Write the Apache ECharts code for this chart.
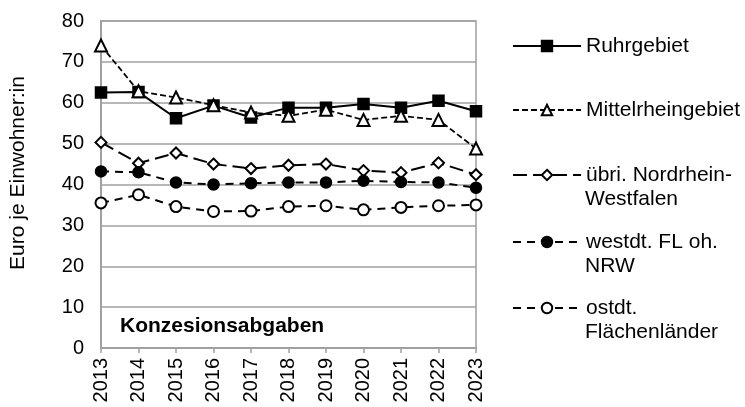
<!DOCTYPE html>
<html><head><meta charset="utf-8">
<script src="https://cdn.jsdelivr.net/npm/echarts@6/dist/echarts.min.js"></script>
<style>html,body{margin:0;padding:0;background:#fff}#c{width:745px;height:407px}</style>
</head><body><div id="c"></div>
<script>
const years = ['2013','2014','2015','2016','2017','2018','2019','2020','2021','2022','2023'];
const ruhrgebiet = [62.5, 62.6, 56.2, 59.3, 56.4, 58.8, 58.8, 59.7, 58.8, 60.5, 57.9];
const mittelrhein = [74.0, 62.8, 61.3, 59.4, 57.6, 56.8, 58.3, 55.8, 56.8, 55.8, 48.8];
const uebriNRW = [50.3, 45.2, 47.7, 45.0, 43.9, 44.7, 45.0, 43.4, 42.9, 45.3, 42.4];
const westdt = [43.2, 43.0, 40.5, 40.0, 40.3, 40.5, 40.5, 40.9, 40.6, 40.5, 39.2];
const ostdt = [35.5, 37.5, 34.6, 33.4, 33.5, 34.6, 34.8, 33.8, 34.4, 34.8, 35.0];
const yTicks = {min: 0, max: 80, interval: 10};
const names = ['Ruhrgebiet', 'Mittelrheingebiet', 'übri. Nordrhein-', 'westdt. FL oh.', 'ostdt.'];
const secondLines = ['', '', 'Westfalen', 'NRW', 'Flächenländer'];
const yTitle = 'Euro je Einwohner:in';
const panelTitle = 'Konzesionsabgaben';

const FONT = 'Liberation Sans, Arial, sans-serif';
const chart = echarts.init(document.getElementById('c'));
function mk(name, data, symbol, size, dash, width) {
  return {
    name, type: 'line', data, symbol, symbolSize: size,
    lineStyle: {color: '#000', width: width, type: dash},
    itemStyle: {color: '#000', borderColor: '#000', borderWidth: 1.5},
    emphasis: {disabled: true}, animation: false, z: 3
  };
}
const legendTops = [46, 110, 175, 242, 308];
const legends = names.map((n, i) => ({
  data: [n], left: 512, top: legendTops[i] - 10.5, padding: 0,
  itemWidth: 68, itemHeight: 13, selectedMode: false,
  textStyle: {fontFamily: FONT, fontSize: 21, color: '#000'}
}));
const graphics = [
  {type: 'text', x: 18.5, y: 173, rotation: Math.PI / 2,
   style: {text: yTitle, fontFamily: FONT, fontSize: 21, fill: '#000', align: 'center', verticalAlign: 'middle'}},
  {type: 'text', left: 120, top: 316,
   style: {text: panelTitle, fontFamily: FONT, fontSize: 21, fontWeight: 'bold', fill: '#000'}}
];
secondLines.forEach((t, i) => {
  if (t) graphics.push({type: 'text', left: 585, top: legendTops[i] + 24 - 10.5,
    style: {text: t, fontFamily: FONT, fontSize: 21, fill: '#000'}});
});
chart.setOption({
  animation: false,
  grid: {left: 101, right: 269, top: 21, bottom: 59, show: true, borderColor: '#a0a0a0', borderWidth: 1.5},
  legend: legends,
  graphic: graphics,
  xAxis: {
    type: 'category', data: years, boundaryGap: false,
    axisLine: {lineStyle: {color: '#a0a0a0', width: 2}},
    axisTick: {show: true, length: 5, lineStyle: {color: '#a0a0a0', width: 1.5}},
    axisLabel: {rotate: 90, margin: 10, fontFamily: FONT, fontSize: 20, color: '#000'},
    splitLine: {show: false}
  },
  yAxis: {
    type: 'value', min: yTicks.min, max: yTicks.max, interval: yTicks.interval,
    axisLine: {show: true, lineStyle: {color: '#a0a0a0', width: 2}},
    axisTick: {show: false},
    axisLabel: {margin: 17, fontFamily: FONT, fontSize: 20, color: '#000'},
    splitLine: {lineStyle: {color: '#a0a0a0', width: 1.5}}
  },
  series: [
    mk(names[0], ruhrgebiet, 'rect', 11, 'solid', 2),
    mk(names[1], mittelrhein, 'emptyTriangle', 12, [6, 3], 1.75),
    mk(names[2], uebriNRW, 'emptyDiamond', 11, [14, 6], 2),
    mk(names[3], westdt, 'circle', 11, [8, 6], 2),
    mk(names[4], ostdt, 'emptyCircle', 11, [8, 6], 2)
  ]
});
</script></body></html>
